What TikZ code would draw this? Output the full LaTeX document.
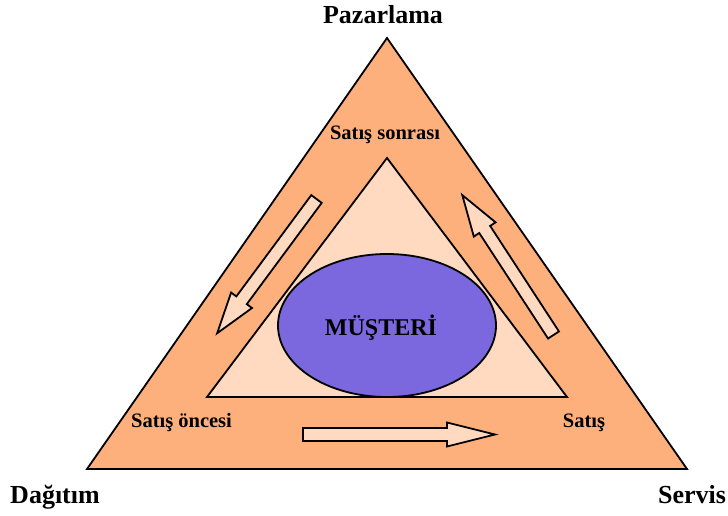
\documentclass[tikz,border=0pt]{standalone}
\usepackage{fontspec}
\setmainfont{Liberation Serif}
\usepackage{xcolor}
\usepackage{tikz}
\definecolor{salespeach}{RGB}{254,176,124}
\definecolor{salescream}{RGB}{255,217,192}
\definecolor{clientblue}{RGB}{124,104,222}

\begin{document}
\begin{tikzpicture}[x=1pt,y=1pt,
  every node/.style={font=\bfseries,inner sep=0pt},
  corner/.style={font=\fontsize{26}{30}\selectfont\bfseries,anchor=base},
  phase/.style={font=\fontsize{20.5}{24}\selectfont\bfseries,anchor=base},
  tri/.style={draw=black,line width=1.8pt,line join=miter},
  blockarrow/.style={draw=black,line width=1.8pt,fill=salescream,line join=miter}]
  \useasboundingbox (0,0) rectangle (728,515);

  % Outer and inner triangle.
  \filldraw[tri,fill=salespeach] (87,46) -- (687,46) -- (387,477) -- cycle;
  \filldraw[tri,fill=salescream] (207,118) -- (567,118) -- (387,357) -- cycle;

  % Customer in the middle.
  \filldraw[draw=black,line width=1.8pt,fill=clientblue]
    (387,189.5) ellipse [x radius=109,y radius=71.5];
  \node[font=\fontsize{24}{28}\selectfont\bfseries,anchor=base] (musteri)
    at (381,180) {MÜŞTERİ};

  % Block arrows round the cycle: x/y of tail, angle, length, head length, head half width.
  \foreach \px/\py/\ang/\len/\hl/\hw in
    {316.5/316/233.5/167/41/13, 553.5/180/123.1/167/41/13, 303/80.5/0/192/48/12}{
    \filldraw[blockarrow,shift={(\px,\py)},rotate=\ang]
      (0,-6.5) -- ({\len-\hl},-6.5) -- ({\len-\hl},-\hw) -- (\len,0)
      -- ({\len-\hl},\hw) -- ({\len-\hl},6.5) -- (0,6.5) -- cycle;
  }

  % Labels.
  \node[corner] (pazarlama) at (383,491) {Pazarlama};
  \node[corner] (dagitim) at (55,12) {Dağıtım};
  \node[corner] (servis) at (692,12) {Servis};
  \node[phase] (sonrasi) at (385,375) {Satış sonrası};
  \node[phase] (oncesi) at (181.5,88) {Satış öncesi};
  \node[phase] (satis) at (584,88) {Satış};
\end{tikzpicture}
\end{document}
